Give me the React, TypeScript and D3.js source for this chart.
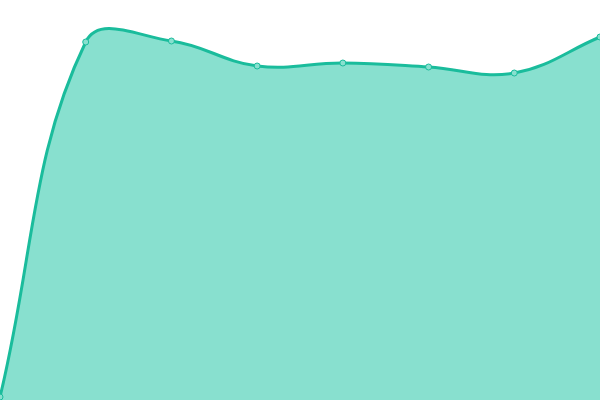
import { useRef, useEffect } from 'react';
import { select, scaleLinear, path } from 'd3';

// series values (0..100 scale)
const labels: string[] = ['A', 'B', 'C', 'D', 'E', 'F', 'G', 'H'];
const values: number[] = [0.75, 89.5, 89.75, 83.5, 84.25, 83.25, 81.75, 90.75];

const WIDTH = 600;
const HEIGHT = 400;
const TENSION = 0.4;

type Pt = { x: number; y: number };

// spline with tension, control points from neighbour distances
const splinePath = (pts: Pt[], closeTo?: number) => {
  const ctrl = pts.map((p, i) => {
    const prev = pts[i - 1] || p;
    const next = pts[i + 1] || p;
    const d01 = Math.hypot(p.x - prev.x, p.y - prev.y);
    const d12 = Math.hypot(next.x - p.x, next.y - p.y);
    const sum = d01 + d12 || 1;
    const fa = (TENSION * d01) / sum;
    const fb = (TENSION * d12) / sum;
    return {
      px: p.x - fa * (next.x - prev.x),
      py: Math.min(HEIGHT, Math.max(0, p.y - fa * (next.y - prev.y))),
      nx: p.x + fb * (next.x - prev.x),
      ny: Math.min(HEIGHT, Math.max(0, p.y + fb * (next.y - prev.y))),
    };
  });
  const ctx = path();
  ctx.moveTo(pts[0].x, pts[0].y);
  for (let i = 1; i < pts.length; i++) {
    ctx.bezierCurveTo(
      ctrl[i - 1].nx,
      ctrl[i - 1].ny,
      ctrl[i].px,
      ctrl[i].py,
      pts[i].x,
      pts[i].y
    );
  }
  if (closeTo !== undefined) {
    ctx.lineTo(pts[pts.length - 1].x, closeTo);
    ctx.lineTo(pts[0].x, closeTo);
    ctx.closePath();
  }
  return ctx.toString();
};

const App = () => {
  const svgRef = useRef<SVGSVGElement | null>(null);

  useEffect(() => {
    const svg = select(svgRef.current);
    svg.selectAll('*').remove();

    const xScale = scaleLinear()
      .domain([0, labels.length - 1])
      .range([0, WIDTH]);
    const yScale = scaleLinear().domain([0, 100]).range([HEIGHT, 0]);

    const pts = values.map((v, i) => ({ x: xScale(i), y: yScale(v) }));

    svg
      .append('path')
      .attr('d', splinePath(pts, yScale(0)))
      .attr('fill', '#88e0cf');

    svg
      .append('path')
      .attr('d', splinePath(pts))
      .attr('fill', 'none')
      .attr('stroke', '#1abc9c')
      .attr('stroke-width', 3);

    svg
      .selectAll('.dot')
      .data(pts)
      .join('circle')
      .attr('class', 'dot')
      .attr('cx', (d) => d.x)
      .attr('cy', (d) => d.y)
      .attr('r', 3)
      .attr('fill', '#88e0cf')
      .attr('stroke', '#1abc9c')
      .attr('stroke-width', 1);
  }, []);

  return (
    <svg
      ref={svgRef}
      width={WIDTH}
      height={HEIGHT}
      style={{ position: 'absolute', left: 0, top: 0, overflow: 'hidden' }}
    ></svg>
  );
};

export default App;
